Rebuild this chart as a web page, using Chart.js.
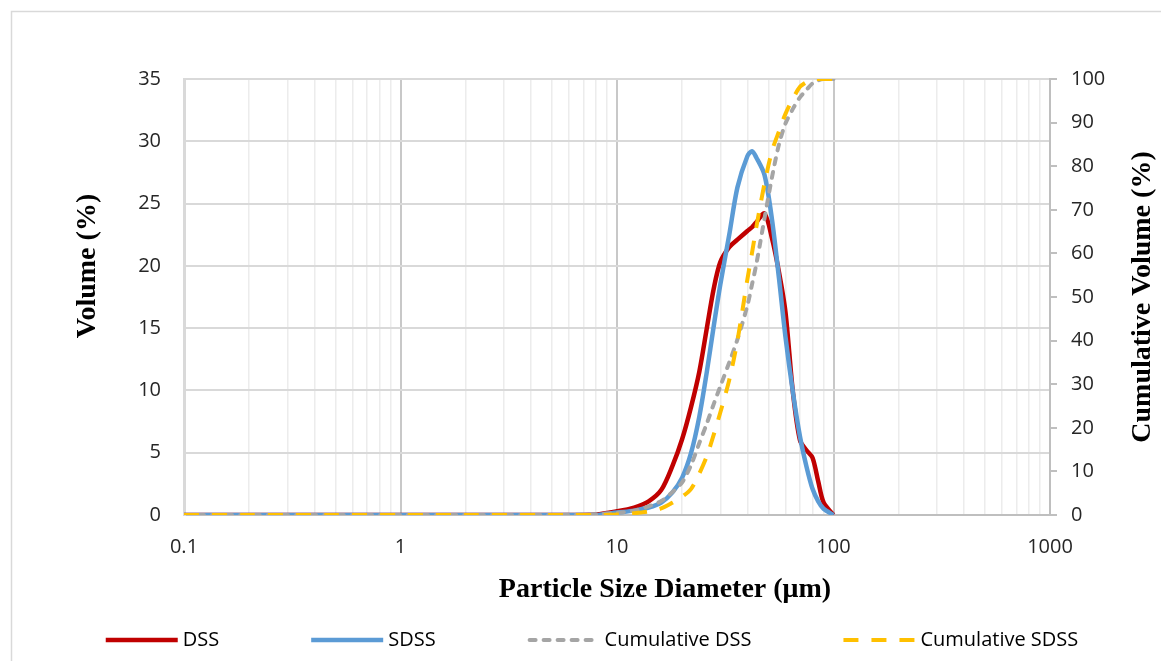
<!DOCTYPE html>
<html>
<head>
<meta charset="utf-8">
<script src="https://cdn.jsdelivr.net/npm/chart.js@4.4.1/dist/chart.umd.min.js"></script>
<style>
  html, body { margin: 0; background: #fff; }
  #wrap { position: relative; width: 1161px; height: 661px; }
</style>
</head>
<body>
<div id="wrap"><canvas id="chartPsd"></canvas></div>
<script>
/* ========== Data ========== */
// particle diameters (um)
const SIZES    = [0.1, 0.2, 0.5, 1, 2, 5, 8, 10, 12, 14, 16, 18, 20, 22, 24, 26, 28, 30, 33, 36, 40, 42, 44, 48, 52, 56, 60, 65, 70, 75, 80, 85, 90, 100];
// volume (%) - left axis
const DSS      = [0, 0, 0, 0, 0, 0, 0.05, 0.3, 0.6, 1.1, 2.0, 3.9, 6.1, 8.7, 11.5, 15.0, 18.2, 20.3, 21.5, 22.1, 22.8, 23.1, 23.5, 24.2, 22.2, 19.5, 16.3, 9.8, 6.0, 5.2, 4.6, 2.7, 1.0, 0];
const SDSS     = [0, 0, 0, 0, 0, 0, 0, 0.2, 0.35, 0.6, 1.0, 1.8, 3.0, 5.0, 7.9, 11.5, 15.2, 18.5, 22.5, 26.3, 28.8, 29.2, 28.7, 27.3, 23.7, 19.0, 14.3, 9.8, 6.3, 3.9, 2.1, 1.1, 0.5, 0];
// cumulative volume (%) - right axis
const CUM_DSS  = [0, 0, 0, 0, 0, 0, 0.2, 0.5, 1.0, 2.0, 3.2, 5.2, 7.5, 11.5, 16.5, 21.0, 25.5, 29.5, 35.0, 40.3, 48.0, 52.8, 57.5, 68.0, 77.5, 85.0, 89.8, 93.2, 95.8, 97.5, 99.0, 99.7, 100, 100];
const CUM_SDSS = [0, 0, 0, 0, 0, 0, 0, 0.1, 0.4, 0.8, 1.5, 2.8, 4.2, 6.0, 9.5, 13.5, 18.5, 23.5, 31.0, 40.0, 54.0, 60.0, 66.0, 76.0, 83.5, 88.0, 92.0, 95.5, 98.2, 99.3, 100, 100, 100, 100];

const SERIES_NAMES = ['DSS', 'SDSS', 'Cumulative DSS', 'Cumulative SDSS'];
const X_DECADES = [0.1, 1, 10, 100, 1000];
const X_MINOR = [1, 2, 3, 4, 5, 6, 7, 8, 9];

/* ========== Colors ========== */
const COLORS = {
  red: '#C00000',
  blue: '#5B9BD5',
  grey: '#A5A5A5',
  gold: '#FFC000',
  grid: '#d9d9d9',
  minor: '#ececec',
  major: '#c8c8c8',
  axis: '#bfbfbf',
  text: '#262626'
};

const TICK_FONT = { family: "'Open Sans', sans-serif", size: 20 };

const toPoints = arr => SIZES.map((s, i) => ({ x: s, y: arr[i] }));

// every grid line position on the log axis (1..9 x each decade)
const xGridValues = [];
X_DECADES.slice(0, -1).forEach(d => X_MINOR.forEach(m => xGridValues.push(+(d * m).toPrecision(3))));
xGridValues.push(X_DECADES[X_DECADES.length - 1]);

/* ========== Plugins ========== */
const whiteBgPlugin = {
  id: 'whiteBg',
  beforeDraw(chart) {
    const { ctx, width, height } = chart;
    ctx.save();
    ctx.fillStyle = '#ffffff';
    ctx.fillRect(0, 0, width, height);
    ctx.strokeStyle = '#d9d9d9';
    ctx.lineWidth = 1.5;
    ctx.strokeRect(11.5, 11.5, width, height);
    ctx.restore();
  }
};

const axisTitlePlugin = {
  id: 'axisTitles',
  afterDraw(chart) {
    const { ctx, chartArea: a } = chart;
    ctx.save();
    ctx.font = 'bold 28px "Liberation Serif", serif';
    ctx.fillStyle = '#000';
    ctx.textAlign = 'center';
    ctx.textBaseline = 'middle';
    ctx.fillText('Particle Size Diameter (\u03bcm)', a.left + 481, a.bottom + 75);
    ctx.translate(a.left - 96, a.top + 187);
    ctx.rotate(-Math.PI / 2);
    ctx.fillText('Volume (%)', 0, 0);
    ctx.restore();
    ctx.save();
    ctx.font = 'bold 28px "Liberation Serif", serif';
    ctx.fillStyle = '#000';
    ctx.textAlign = 'center';
    ctx.textBaseline = 'middle';
    ctx.translate(a.right + 93, (a.top + a.bottom) / 2);
    ctx.rotate(-Math.PI / 2);
    ctx.fillText('Cumulative Volume (%)', 0, 0);
    ctx.restore();
  }
};

// Excel-style legend: line sample + label, wide gaps between entries
const lineLegendPlugin = {
  id: 'lineLegend',
  afterDraw(chart) {
    const { ctx, chartArea: a } = chart;
    const sample = 72, textGap = 5, itemGap = 92, y = 640;
    ctx.save();
    ctx.font = "20px 'Open Sans', sans-serif";
    const items = chart.data.datasets.map(ds => ({ ds, w: ctx.measureText(ds.label).width }));
    const total = items.reduce((s, it) => s + sample + textGap + it.w, 0) + itemGap * (items.length - 1);
    let x = (a.left + a.right) / 2 - 25 - total / 2;
    items.forEach(({ ds, w }) => {
      ctx.beginPath();
      ctx.setLineDash(ds.borderDash || []);
      ctx.lineCap = ds.borderCapStyle || 'butt';
      ctx.strokeStyle = ds.borderColor;
      ctx.lineWidth = ds.borderWidth;
      const inset = ds.borderCapStyle === 'round' ? 2 : 0;
      ctx.moveTo(x + inset, y);
      ctx.lineTo(x + sample - inset, y);
      ctx.stroke();
      ctx.setLineDash([]);
      ctx.fillStyle = '#000';
      ctx.textAlign = 'left';
      ctx.textBaseline = 'middle';
      ctx.fillText(ds.label, x + sample + textGap, y);
      x += sample + textGap + w + itemGap;
    });
    ctx.restore();
  }
};

/* ========== Chart ========== */
function createChart() {
  const lineBase = { pointRadius: 0, fill: false, tension: 0.3 };
  new Chart(document.getElementById('chartPsd'), {
    type: 'line',
    data: {
      datasets: [
        { ...lineBase, label: SERIES_NAMES[0], data: toPoints(DSS), borderColor: COLORS.red, borderWidth: 4.5, yAxisID: 'y', order: 3 },
        { ...lineBase, label: SERIES_NAMES[1], data: toPoints(SDSS), borderColor: COLORS.blue, borderWidth: 4.5, yAxisID: 'y', order: 2 },
        { ...lineBase, label: SERIES_NAMES[2], data: toPoints(CUM_DSS), borderColor: COLORS.grey, borderWidth: 4, borderDash: [6, 8], borderCapStyle: 'round', yAxisID: 'y2', order: 1 },
        { ...lineBase, label: SERIES_NAMES[3], data: toPoints(CUM_SDSS), borderColor: COLORS.gold, borderWidth: 4, borderDash: [15, 13], yAxisID: 'y2', order: 0 }
      ]
    },
    options: {
      responsive: true,
      maintainAspectRatio: false,
      animation: false,
      layout: { padding: { top: 79, left: 0, right: 0, bottom: 0 } },
      plugins: {
        legend: { display: false },
        tooltip: { enabled: false }
      },
      scales: {
        x: {
          type: 'logarithmic',
          min: X_DECADES[0],
          max: X_DECADES[X_DECADES.length - 1],
          afterBuildTicks: s => { s.ticks = xGridValues.map(v => ({ value: v })); },
          afterFit: s => { s.height = 146; },
          ticks: {
            autoSkip: false,
            maxRotation: 0,
            padding: 20,
            color: COLORS.text,
            font: TICK_FONT,
            callback: v => (X_DECADES.includes(v) ? String(v) : '')
          },
          grid: {
            drawTicks: false,
            color: c => (c.tick && X_DECADES.includes(c.tick.value) ? COLORS.major : COLORS.minor),
            lineWidth: c => (c.tick && X_DECADES.includes(c.tick.value) ? 2 : 1.5)
          },
          border: { color: COLORS.axis, width: 2 }
        },
        y: {
          position: 'left',
          min: 0,
          max: 35,
          afterFit: s => { s.width = 184; },
          ticks: { stepSize: 5, padding: 23, color: COLORS.text, font: TICK_FONT },
          grid: { drawTicks: false, color: COLORS.grid, lineWidth: 2 },
          border: { color: COLORS.grid, width: 3 }
        },
        y2: {
          position: 'right',
          min: 0,
          max: 100,
          afterFit: s => { s.width = 111; },
          ticks: { stepSize: 10, padding: 14, color: COLORS.text, font: TICK_FONT },
          grid: { drawOnChartArea: false, drawTicks: true, tickLength: 7, color: COLORS.axis, lineWidth: 2 },
          border: { color: COLORS.axis, width: 2 }
        }
      }
    },
    plugins: [whiteBgPlugin, axisTitlePlugin, lineLegendPlugin]
  });
}

document.addEventListener('DOMContentLoaded', createChart);
</script>
</body>
</html>
